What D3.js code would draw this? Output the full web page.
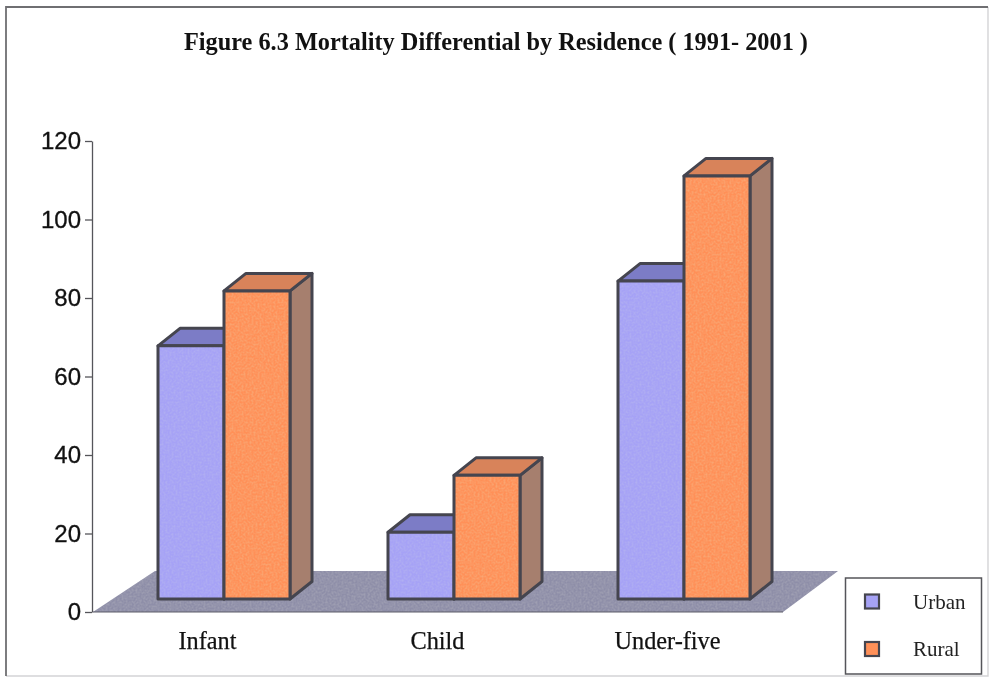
<!DOCTYPE html>
<html><head><meta charset="utf-8">
<script src="https://cdn.jsdelivr.net/npm/d3@7"></script>
<style>html,body{margin:0;padding:0;background:#fff}svg{display:block;filter:blur(0.45px)}</style>
</head><body><div id="chart"></div>
<script>
const categories = ["Infant","Child","Under-five"];
const seriesNames = ["Urban","Rural"];
const urban = [64.5,17,81];
const rural = [78.5,31.5,107.8];
const yTicks = [0,20,40,60,80,100,120];
const titleText = "Figure 6.3 Mortality Differential by Residence ( 1991- 2001 )";
const faceColors = ["#a6a2f6","#ff9058"];
const topColors = ["#7c7cc6","#d8835a"];
const sideColor = "#a67f6e";
const edge = "#45454f";

const W=994,H=681;
const svg=d3.select("#chart").append("svg").attr("width",W).attr("height",H);
const defs=svg.append("defs");
function texture(id,r,g,b,k,o){
  const f=defs.append("filter").attr("id",id).attr("x","0").attr("y","0").attr("width","1").attr("height","1");
  f.append("feTurbulence").attr("type","fractalNoise").attr("baseFrequency",0.5).attr("numOctaves",2).attr("seed",4).attr("result","n");
  f.append("feColorMatrix").attr("in","n").attr("type","matrix").attr("values",`0 0 0 0 ${r}  0 0 0 0 ${g}  0 0 0 0 ${b}  ${k} 0 0 0 ${o}`).attr("result","m");
  f.append("feComposite").attr("in","m").attr("in2","SourceGraphic").attr("operator","in").attr("result","c");
  f.append("feMerge").selectAll("feMergeNode").data(["SourceGraphic","c"]).join("feMergeNode").attr("in",d=>d);
}
texture("texFloor",0.42,0.42,0.5,1.1,-0.38);
texture("tex0",0.5,0.5,0.85,1.0,-0.36);
texture("tex1",0.9,0.5,0.25,1.0,-0.36);

// frame: strong top and left, faint right and bottom as on the scan
const frame=svg.append("g").attr("fill","none");
frame.append("path").attr("d","M988,7V676H6").attr("stroke","#d4d4d6").attr("stroke-width",1.4);
frame.append("path").attr("d","M6,676V7H988").attr("stroke","#6f6f72").attr("stroke-width",1.8);

const y=d3.scaleLinear().domain([0,120]).range([612,141]);
const x=d3.scaleBand().domain(categories).range([93,783]);
const barW=66, gx=16, gy=13, dx=22, dy=17.5, floorDx=62, floorDy=41;
const pt=a=>a.map(p=>p.join(",")).join(" ");

// floor
svg.append("polygon").attr("points",pt([[x.range()[0],y(0)],[x.range()[1],y(0)],[x.range()[1]+floorDx-7,y(0)-floorDy],[x.range()[0]+floorDx,y(0)-floorDy]]))
  .attr("fill","#8e8ea8").attr("filter","url(#texFloor)");
svg.append("line").attr("x1",x.range()[0]).attr("x2",x.range()[1]).attr("y1",y(0)).attr("y2",y(0)).attr("stroke","#5c5c68").attr("stroke-width",1);

// axis
const ax=svg.append("g").attr("transform","translate(92,0)").call(d3.axisLeft(y).tickValues(yTicks).tickSize(7).tickPadding(4).tickSizeOuter(0));
ax.selectAll("line,path").attr("stroke","#55555a").attr("stroke-width",1.3);
ax.selectAll("text").attr("font-family","Liberation Sans").attr("font-size",24).attr("fill","#111").attr("stroke","#111").attr("stroke-width",0.3);

// bars
const rows=categories.flatMap((c,i)=>[{c,s:0,v:urban[i]},{c,s:1,v:rural[i]}]);
const bars=svg.append("g").selectAll("g").data(rows).join("g")
  .attr("stroke",edge).attr("stroke-width",3).attr("stroke-linejoin","round");
const bx=d=>x(d.c)+x.bandwidth()/2+gx-barW+d.s*barW;
const by=d=>y(d.v)-gy, by0=()=>y(0)-gy;
bars.append("polygon").attr("points",d=>pt([[bx(d)+barW,by(d)],[bx(d)+barW+dx,by(d)-dy],[bx(d)+barW+dx,by0()-dy],[bx(d)+barW,by0()]])).attr("fill",sideColor);
bars.append("polygon").attr("points",d=>pt([[bx(d),by(d)],[bx(d)+dx,by(d)-dy],[bx(d)+barW+dx,by(d)-dy],[bx(d)+barW,by(d)]])).attr("fill",d=>topColors[d.s]);
bars.append("rect").attr("x",bx).attr("y",by).attr("width",barW).attr("height",d=>by0()-by(d)).attr("fill",d=>faceColors[d.s]).attr("stroke","none").attr("filter",d=>`url(#tex${d.s})`);
bars.append("rect").attr("x",bx).attr("y",by).attr("width",barW).attr("height",d=>by0()-by(d)).attr("fill","none");

// category labels
svg.append("g").selectAll("text").data(categories).join("text")
  .attr("x",d=>x(d)+x.bandwidth()/2-0.5).attr("y",649).attr("text-anchor","middle")
  .attr("font-family","Liberation Serif").attr("font-size",24.3).attr("fill","#111").attr("stroke","#111").attr("stroke-width",0.25).text(d=>d);

// title
svg.append("text").attr("x",496).attr("y",50).attr("text-anchor","middle").attr("font-family","Liberation Serif").attr("font-weight","bold").attr("font-size",24.3).attr("fill","#111").text(titleText);

// legend
svg.append("rect").attr("x",845.5).attr("y",578).attr("width",136).attr("height",96).attr("fill","#fff").attr("stroke","#55555a").attr("stroke-width",1.5);
const lg=svg.append("g").selectAll("g").data(seriesNames).join("g").attr("transform",(d,i)=>`translate(0,${601.5+i*47.5})`);
lg.append("rect").attr("x",865).attr("y",-7).attr("width",14).attr("height",14).attr("fill",(d,i)=>faceColors[i]).attr("stroke",edge).attr("stroke-width",2.2);
lg.append("text").attr("x",913).attr("y",7).attr("font-family","Liberation Serif").attr("font-size",21).attr("fill","#222").text(d=>d);
</script></body></html>
